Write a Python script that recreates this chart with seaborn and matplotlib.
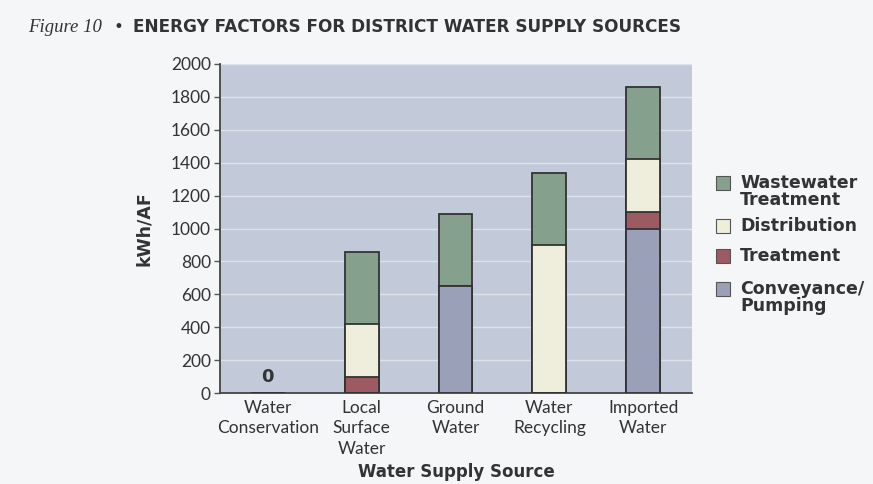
import matplotlib
matplotlib.use("Agg")
import matplotlib.pyplot as plt
from matplotlib.patches import Rectangle
import numpy as np
import pandas as pd
import seaborn as sns

# Energy components (kWh per acre-foot) for each supply source
sources = ["Water\nConservation", "Local\nSurface\nWater", "Ground\nWater",
           "Water\nRecycling", "Imported\nWater"]
conveyance = [0, 0, 650, 0, 1000]
treatment = [0, 100, 0, 0, 100]
distribution = [0, 320, 0, 900, 320]
wastewater = [0, 440, 440, 440, 440]

series_names = ["Conveyance/\nPumping", "Treatment", "Distribution", "Wastewater\nTreatment"]
series_colors = ["#9ba0b9", "#9c5a62", "#efeddc", "#86a08e"]
yticks = list(range(0, 2001, 200))

df = pd.DataFrame({"source": sources, "Conveyance": conveyance, "Treatment": treatment,
                   "Distribution": distribution, "Wastewater": wastewater})
components = ["Conveyance", "Treatment", "Distribution", "Wastewater"]
cum = df[components].cumsum(axis=1)

sns.set_style("white")
plt.rcParams["font.family"] = ["Lato", "DejaVu Sans"]
BOLD = "DejaVu Sans"
INK = "#333333"

fig = plt.figure(figsize=(8.73, 4.84), dpi=100)
fig.patch.set_facecolor("#f5f6f7")
W, H = 873, 484
ax = fig.add_axes([220 / W, 1 - 393 / H, (692 - 220) / W, (393 - 64) / H])
ax.set_facecolor("#c2cad9")

ax.set_ylim(0, 2000)
ax.set_yticks(yticks)
ax.yaxis.grid(True, color="#dde2ea", linewidth=1.0)
ax.set_axisbelow(True)

# Stack by overdrawing cumulative totals, tallest first
for comp, color in zip(reversed(components), reversed(series_colors)):
    sns.barplot(x=df["source"], y=cum[comp], order=sources, color=color,
                width=0.36, edgecolor="#333333", linewidth=1.3, saturation=1,
                ax=ax, zorder=3)

ax.set_xlim(-0.51, 4.52)
ax.set_xticks(range(len(sources)))
ax.set_xticklabels(sources, fontsize=12.5, color=INK, linespacing=1.35)
ax.set_xticks(np.arange(0.5, len(sources) - 1, 1.0), minor=True)
ax.tick_params(axis="x", which="major", length=0, pad=5)
ax.tick_params(axis="x", which="minor", length=4, width=1, color="#555555", direction="out")
ax.tick_params(axis="y", length=4, width=1, color="#555555", labelsize=12.5,
               labelcolor=INK, pad=2.5, left=True)

for s in ["top", "right"]:
    ax.spines[s].set_visible(False)
for s in ["left", "bottom"]:
    ax.spines[s].set_color("#444444")
    ax.spines[s].set_linewidth(1.3)

ax.set_xlabel("Water Supply Source", fontsize=12, fontweight="bold", family=BOLD,
              color=INK, labelpad=4)
ax.set_ylabel("kWh/AF", fontsize=12.5, fontweight="bold", family=BOLD, color=INK, labelpad=13)

# Total label for the source with no energy use
totals = cum["Wastewater"].tolist()
ax.text(0, totals[0] + 40, f"{totals[0]:.0f}", ha="center", va="bottom",
        fontsize=13, fontweight="bold", family=BOLD, color=INK)

# Title
fig.text(28 / W, 1 - 32 / H, "Figure 10", family="Liberation Serif", style="italic",
         fontsize=13.5, color=INK, va="baseline")
fig.text(113 / W, 1 - 32 / H, "\u2022", fontsize=12, color=INK, va="baseline",
         family="DejaVu Sans")
fig.text(133 / W, 1 - 32 / H, "ENERGY FACTORS FOR DISTRICT WATER SUPPLY SOURCES",
         fontsize=12.2, fontweight="bold", family=BOLD, color=INK, va="baseline")

# Legend, top entry first
legend_y = [183, 226, 256, 289]
for name, color, yy in zip(reversed(series_names), reversed(series_colors), legend_y):
    fig.add_artist(Rectangle((716 / W, 1 - (yy + 7) / H), 14 / W, 14 / H,
                             transform=fig.transFigure, facecolor=color,
                             edgecolor="#555555", linewidth=0.8))
    fig.text(740 / W, 1 - (yy - 9) / H, name, fontsize=12.5, fontweight="bold",
             family=BOLD, color=INK, va="top", ha="left", linespacing=0.95)

fig.savefig("out.png", dpi=100, facecolor=fig.get_facecolor())
